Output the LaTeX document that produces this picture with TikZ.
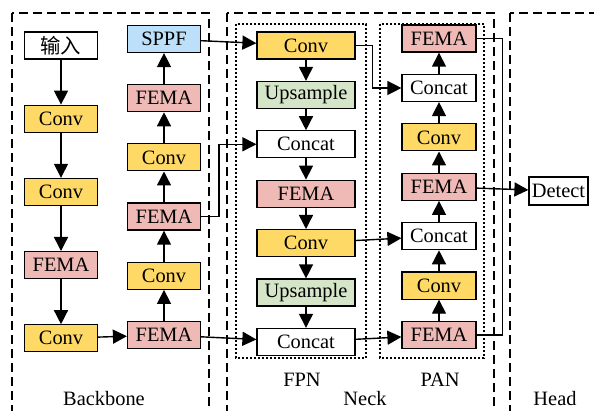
\documentclass[tikz,border=0pt]{standalone}
\usepackage{fontspec}
\setmainfont{LiberationSerif}[Extension=.ttf, UprightFont=*-Regular,
  BoldFont=*-Bold, ItalicFont=*-Italic, BoldItalicFont=*-BoldItalic]
\newfontfamily\cjk{Noto Sans CJK SC}
\usetikzlibrary{arrows.meta,positioning}
\definecolor{convyellow}{HTML}{FFD966}
\definecolor{femapink}{HTML}{EFBAB6}
\definecolor{sppfblue}{HTML}{BDE0FA}
\definecolor{upgreen}{HTML}{D5E5C8}
\tikzset{
  blk/.style      = {draw, line width=0.6pt, minimum height=13.5pt,
                     minimum width=36.5pt, inner sep=1pt, fill=white},
  conv/.style     = {blk, fill=convyellow},
  fema/.style     = {blk, fill=femapink},
  sppf/.style     = {blk, fill=sppfblue},
  upsmp/.style    = {blk, fill=upgreen},
  wide/.style     = {minimum width=49pt},
  pan/.style      = {minimum width=37pt},
  sig/.style      = {-{Triangle[length=7pt,width=7pt]}, line width=0.7pt},
  wire/.style     = {line width=0.7pt},
  stage/.style    = {dash pattern=on 4.5pt off 2.5pt, line width=0.65pt},
  part/.style     = {dash pattern=on 1pt off 1pt, line width=0.6pt},
  every node/.style = {font=\rmfamily\fontsize{10.2}{12}\selectfont},
}

\begin{document}
\begin{tikzpicture}[x=0.5pt, y=-0.5pt]
  \useasboundingbox (0,0) rectangle (594,411);
  % stages
  \draw[stage] (12,13) rectangle (209,412);
  \draw[stage] (227,13) rectangle (494,412);
  \draw[stage] (510,13) rectangle (610,412);
  \draw[part] (236,24) rectangle (366,358);
  \draw[part] (380,24) rectangle (484,358);
  \node (lbb) at (104,399) {Backbone};
  \node (lneck) at (365,399) {Neck};
  \node (lhead) at (555,399) {Head};
  \node (lfpn) at (302,380) {FPN};
  \node (lpan) at (440,380) {PAN};

  % backbone, first column
  \node[blk] (in) at (61,45.5) {\cjk 输入};
  \node[conv, below=22.5pt of in] (b1) {Conv};
  \node[conv, below=22.5pt of b1] (b2) {Conv};
  \node[fema, below=22.5pt of b2] (b3) {FEMA};
  \node[conv, below=22.5pt of b3] (b4) {Conv};
  % backbone, second column
  \node[fema] (bf1) at (164,335) {FEMA};
  \node[conv, above=15.5pt of bf1] (bc1) {Conv};
  \node[fema, above=15.5pt of bc1] (bf2) {FEMA};
  \node[conv, above=15.5pt of bf2] (bc2) {Conv};
  \node[fema, above=15.5pt of bc2] (bf3) {FEMA};
  \node[sppf, above=15.5pt of bf3] (sppf) {SPPF};

  % FPN
  \node[conv, wide] (fc1) at (306,45.5) {Conv};
  \node[upsmp, wide, below=10.6pt of fc1] (fu1) {Upsample};
  \node[blk, wide, below=10.6pt of fu1] (fcat1) {Concat};
  \node[fema, wide, below=10.6pt of fcat1] (ff) {FEMA};
  \node[conv, wide, below=10.6pt of ff] (fc2) {Conv};
  \node[upsmp, wide, below=10.6pt of fc2] (fu2) {Upsample};
  \node[blk, wide, below=10.6pt of fu2] (fcat2) {Concat};

  % PAN
  \node[fema, pan] (pf1) at (439,335) {FEMA};
  \node[conv, pan, above=10.6pt of pf1] (pc1) {Conv};
  \node[blk, pan, above=10.6pt of pc1] (pcat2) {Concat};
  \node[fema, pan, above=10.6pt of pcat2] (pf2) {FEMA};
  \node[conv, pan, above=10.6pt of pf2] (pc2) {Conv};
  \node[blk, pan, above=10.6pt of pc2] (pcat1) {Concat};
  \node[fema, pan, above=10.6pt of pcat1] (pf3) {FEMA};

  % head
  \node[blk, minimum width=29.5pt, minimum height=14pt, inner sep=0.5pt] (det) at (558.5,191) {Detect};

  \draw[sig] (in) -- (b1);
  \draw[sig] (b1) -- (b2);
  \draw[sig] (b2) -- (b3);
  \draw[sig] (b3) -- (b4);
  \draw[sig] (b4) -- (bf1);
  \draw[sig] (bf1) -- (bc1);
  \draw[sig] (bc1) -- (bf2);
  \draw[sig] (bf2) -- (bc2);
  \draw[sig] (bc2) -- (bf3);
  \draw[sig] (bf3) -- (sppf);

  \draw[sig] (sppf) -- (fc1);
  \draw[sig] (bf2.east) -- ++(9pt,0) |- (fcat1.west);
  \draw[sig] (bf1) -- (fcat2);
  \draw[sig] (fc1) -- (fu1);
  \draw[sig] (fu1) -- (fcat1);
  \draw[sig] (fcat1) -- (ff);
  \draw[sig] (ff) -- (fc2);
  \draw[sig] (fc2) -- (fu2);
  \draw[sig] (fu2) -- (fcat2);

  \draw[sig] (fc1.east) -- ++(8.5pt,0) |- (pcat1.west);
  \draw[sig] (fc2) -- (pcat2);
  \draw[sig] (fcat2) -- (pf1);
  \draw[sig] (pf1) -- (pc1);
  \draw[sig] (pc1) -- (pcat2);
  \draw[sig] (pcat2) -- (pf2);
  \draw[sig] (pf2) -- (pc2);
  \draw[sig] (pc2) -- (pcat1);
  \draw[sig] (pcat1) -- (pf3);

  \draw[wire] (pf3.east) -- ++(13pt,0) |- (pf1.east);
  \draw[sig] (pf2) -- (det);
\end{tikzpicture}
\end{document}
